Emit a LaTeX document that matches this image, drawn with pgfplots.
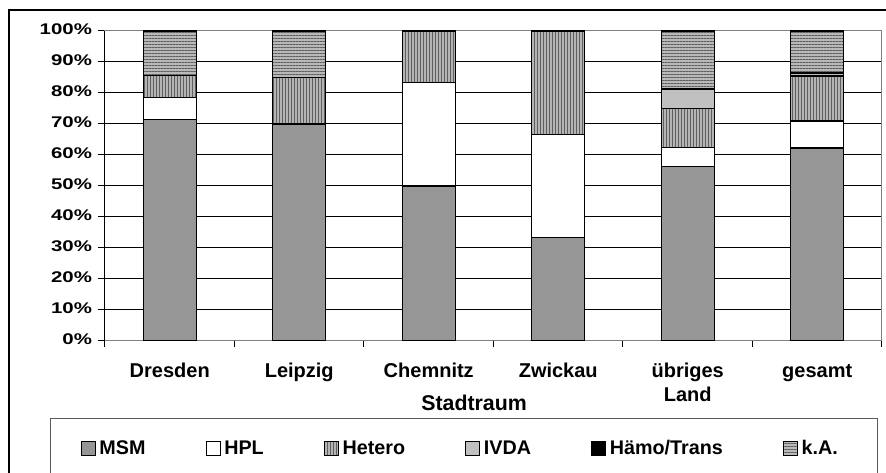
\documentclass[border=0pt]{standalone}
\usepackage{pgfplots}
\pgfplotsset{compat=1.18}
\usetikzlibrary{patterns.meta}
\usepackage{fontspec}
\setmainfont{Liberation Sans}
\newfontfamily\tickfont{Liberation Sans}[FakeStretch=1.32]
\definecolor{msm}{RGB}{150,150,150}
\definecolor{ivda}{RGB}{192,192,192}
\definecolor{hetbg}{RGB}{180,180,180}
\definecolor{hetln}{RGB}{95,95,95}
\definecolor{kabg}{RGB}{185,185,185}
\definecolor{kaln}{RGB}{95,95,95}
\pgfplotsset{mylegend/.style={legend image code/.code={\draw[##1,draw=black,line width=0.6pt] (0pt,-5.25pt) rectangle (10.5pt,5.25pt);}}}
\begin{document}
\begin{tikzpicture}
\useasboundingbox (0pt,0pt) rectangle (664.5pt,354.75pt);
\draw[line width=0.9pt] (6.75pt,-30pt) -- (6.75pt,347.25pt) -- (670pt,347.25pt);
\draw[black!65, line width=0.75pt] (37.5pt,-10pt) rectangle (657.75pt,40.5pt);
\begin{axis}[
  at={(78.75pt,99pt)}, anchor=south west,
  scale only axis, width=582.75pt, height=232.5pt,
  ymin=0, ymax=100, xmin=-0.5, xmax=5.5,
  ybar stacked, bar width=39.75pt,
  axis line style={draw=gray, line width=0.75pt},
  ytick={0,10,...,100},
  yticklabels={0\%,10\%,20\%,30\%,40\%,50\%,60\%,70\%,80\%,90\%,100\%},
  ymajorgrids, major grid style={draw=black, line width=0.75pt},
  extra x ticks={-0.5}, extra x tick labels={},
  extra x tick style={xmajorgrids, major tick length=0pt},
  xtick={0,...,5},
  xticklabels={Dresden,Leipzig,Chemnitz,Zwickau,{übriges\\Land},gesamt},
  minor xtick={-0.5,0.5,...,5.5},
  tick pos=left, tick align=outside,
  x tick style={draw=none},
  minor x tick style={draw=black, line width=0.75pt},
  minor tick length=4.5pt,
  y tick style={draw=black, line width=0.75pt},
  major tick length=5.25pt,
  typeset ticklabels with strut,
  yticklabel style={font=\tickfont\bfseries\fontsize{11.6}{13}\selectfont, xshift=-1pt},
  xticklabel style={font=\bfseries\fontsize{15}{18}\selectfont, align=center, yshift=-6pt},
  xlabel={Stadtraum},
  xlabel style={font=\bfseries\fontsize{16}{18}\selectfont, at={(axis description cs:0.475,-0.2258)}, anchor=base},
  legend columns=6,
  legend style={at={(0.4585,-0.2516)}, anchor=north, draw=none, fill=none,
    inner xsep=20pt, inner ysep=14pt, outer sep=0pt,
    font=\bfseries\fontsize{14.8}{18}\selectfont,
    /tikz/every even column/.append style={column sep=42pt},
    nodes={inner xsep=3pt}},
  legend cell align=left,
  every axis plot/.append style={draw=black, line width=1.1pt},
]
\addplot[fill=msm, mylegend] coordinates {(0,71.43) (1,70) (2,50) (3,33.33) (4,56.25) (5,62.2)};
\addplot[fill=white, mylegend] coordinates {(0,7.14) (1,0) (2,33.33) (3,33.33) (4,6.25) (5,8.8)};
\addplot[fill=hetbg, postaction={pattern={Lines[angle=90,distance=2.25pt,line width=0.7pt]}, pattern color=hetln}, mylegend] coordinates {(0,7.14) (1,15) (2,16.67) (3,33.34) (4,12.5) (5,14.5)};
\addplot[fill=ivda, mylegend] coordinates {(0,0) (1,0) (2,0) (3,0) (4,6.25) (5,1.0)};
\addplot[fill=black, draw=none, mylegend] coordinates {(0,0) (1,0) (2,0) (3,0) (4,0) (5,0)};
\addplot[fill=kabg, postaction={pattern={Lines[angle=0,distance=2.25pt,line width=0.7pt]}, pattern color=kaln}, mylegend] coordinates {(0,14.29) (1,15) (2,0) (3,0) (4,18.75) (5,13.5)};
\legend{MSM,HPL,Hetero,IVDA,Hämo/Trans,k.A.}
\end{axis}
\end{tikzpicture}
\end{document}
